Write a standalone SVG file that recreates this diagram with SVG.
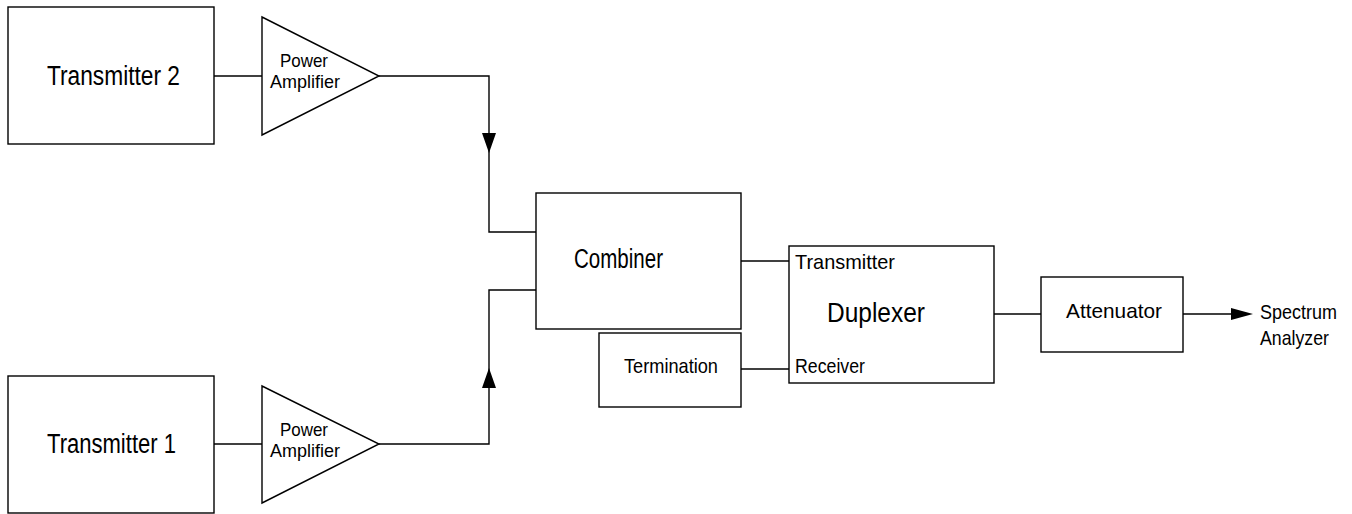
<svg xmlns="http://www.w3.org/2000/svg" width="1352" height="514" viewBox="0 0 1352 514">
<style>
.b{fill:none;stroke:#000;stroke-width:1.4}
.c{fill:none;stroke:#000;stroke-width:1.4}
.t{font-family:"Liberation Sans",Arial,sans-serif;fill:#000}
.big{font-size:27px}
.med{font-size:21px}
.sm{font-size:19px}
</style>
<defs>
<path id="ah" d="M-7,0 L7,0 L0,20 Z" fill="#000"/>
</defs>
<rect width="1352" height="514" fill="#fff"/>
<g id="tx2">
<rect class="b" x="8" y="7" width="206" height="137"/>
<text class="t big" x="47" y="85" textLength="133" lengthAdjust="spacingAndGlyphs">Transmitter 2</text>
</g>
<g id="pa2">
<polygon class="b" points="262,17 379,76 262,135"/>
<text class="t sm" x="280" y="67" textLength="48" lengthAdjust="spacingAndGlyphs">Power</text>
<text class="t sm" x="270" y="88" textLength="70" lengthAdjust="spacingAndGlyphs">Amplifier</text>
</g>
<g id="tx1">
<rect class="b" x="8" y="376" width="206" height="137"/>
<text class="t big" x="47" y="453" textLength="129" lengthAdjust="spacingAndGlyphs">Transmitter 1</text>
</g>
<g id="pa1">
<polygon class="b" points="262,386 379,444 262,503"/>
<text class="t sm" x="280" y="436" textLength="48" lengthAdjust="spacingAndGlyphs">Power</text>
<text class="t sm" x="270" y="457" textLength="70" lengthAdjust="spacingAndGlyphs">Amplifier</text>
</g>
<g id="combiner">
<rect class="b" x="536" y="193" width="205" height="136"/>
<text class="t big" x="574" y="268" textLength="89" lengthAdjust="spacingAndGlyphs">Combiner</text>
</g>
<g id="termination">
<rect class="b" x="599" y="333" width="142" height="74"/>
<text class="t med" x="624" y="373" textLength="94" lengthAdjust="spacingAndGlyphs">Termination</text>
</g>
<g id="duplexer">
<rect class="b" x="789" y="246" width="205" height="137"/>
<text class="t med" x="795" y="269" textLength="100" lengthAdjust="spacingAndGlyphs">Transmitter</text>
<text class="t big" x="827" y="322" textLength="98" lengthAdjust="spacingAndGlyphs">Duplexer</text>
<text class="t med" x="795" y="373" textLength="70" lengthAdjust="spacingAndGlyphs">Receiver</text>
</g>
<g id="attenuator">
<rect class="b" x="1041" y="277" width="142" height="75"/>
<text class="t med" x="1066" y="318" textLength="96" lengthAdjust="spacingAndGlyphs">Attenuator</text>
</g>
<g id="analyzer">
<text class="t med" x="1260" y="319" textLength="77" lengthAdjust="spacingAndGlyphs">Spectrum</text>
<text class="t med" x="1260" y="345" textLength="69" lengthAdjust="spacingAndGlyphs">Analyzer</text>
</g>
<g id="connectors">
<line class="c" x1="214" y1="76" x2="262" y2="76"/>
<polyline class="c" points="379,76 489,76 489,232 536,232"/>
<use href="#ah" x="489" y="133"/>
<line class="c" x1="214" y1="444" x2="262" y2="444"/>
<polyline class="c" points="379,444 489,444 489,290 536,290"/>
<use href="#ah" transform="translate(489,388) scale(1,-1)"/>
<line class="c" x1="741" y1="261" x2="789" y2="261"/>
<line class="c" x1="741" y1="369" x2="789" y2="369"/>
<line class="c" x1="994" y1="314" x2="1041" y2="314"/>
<line class="c" x1="1183" y1="314" x2="1232" y2="314"/>
<use href="#ah" transform="translate(1231,314) rotate(-90) scale(0.85,1.1)"/>
</g>
</svg>
